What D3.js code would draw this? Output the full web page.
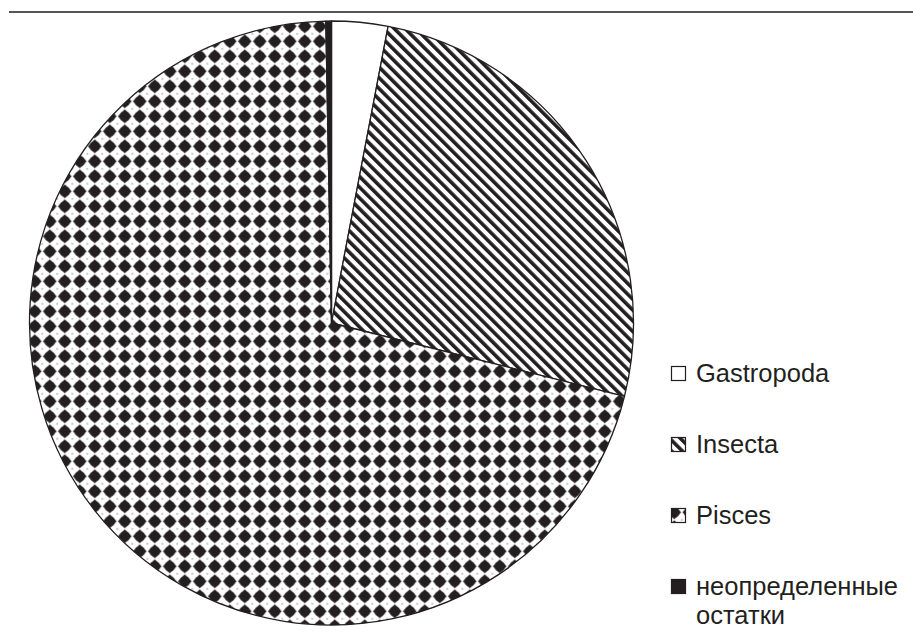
<!DOCTYPE html>
<html>
<head>
<meta charset="utf-8">
<script src="https://cdn.jsdelivr.net/npm/d3@7"></script>
<style>
  html, body { margin: 0; padding: 0; background: #fff; }
  svg { display: block; }
  text { font-family: "Liberation Sans", Arial, Helvetica, sans-serif; fill: #231f20; }
</style>
</head>
<body>
<svg id="chart" width="913" height="632"></svg>
<script>
// Diet composition shares, %, clockwise from 12 o'clock
const categories = ["Gastropoda", "Insecta", "Pisces", "неопределенные остатки"];
const shares = [3.0, 25.9, 70.8, 0.3];
const legendLines = [["Gastropoda"], ["Insecta"], ["Pisces"], ["неопределенные", "остатки"]];
const fillIds = ["fill-plain", "fill-hatch", "fill-diamond", "fill-solid"];

const width = 913, height = 632;
const cx = 331.5, cy = 323, radius = 302;

const svg = d3.select("#chart");
const defs = svg.append("defs");

// Diagonal hatch for Insecta
const hp = 7.6;
const hatch = defs.append("pattern")
  .attr("id", "fill-hatch")
  .attr("patternUnits", "userSpaceOnUse")
  .attr("width", hp).attr("height", hp)
  .attr("patternTransform", "rotate(-45)");
hatch.append("rect").attr("width", hp).attr("height", hp).attr("fill", "#fff");
hatch.append("rect").attr("x", 0).attr("y", 0).attr("width", 3.6).attr("height", hp).attr("fill", "#231f20");

// Diamond grid for Pisces
const tile = 15;
const diamond = defs.append("pattern")
  .attr("id", "fill-diamond")
  .attr("patternUnits", "userSpaceOnUse")
  .attr("x", 10.8).attr("y", 10.8)
  .attr("width", tile).attr("height", tile);
diamond.append("rect").attr("width", tile).attr("height", tile).attr("fill", "#fff");
diamond.append("path")
  .attr("d", "M7.5,0.6 L14.4,7.5 L7.5,14.4 L0.6,7.5 Z")
  .attr("fill", "#231f20");
diamond.append("circle").attr("cx", 7.5).attr("cy", 7.5).attr("r", 5.3).attr("fill", "#231f20");
[[0, 0], [tile, 0], [0, tile], [tile, tile]].forEach(([x, y]) =>
  diamond.append("circle").attr("cx", x).attr("cy", y).attr("r", 0.8).attr("fill", "#888"));

const fillFor = i => {
  if (fillIds[i] === "fill-plain") return "#fff";
  if (fillIds[i] === "fill-solid") return "#231f20";
  return `url(#${fillIds[i]})`;
};

// Rule across the top of the frame
svg.append("line")
  .attr("x1", 9).attr("x2", width)
  .attr("y1", 12).attr("y2", 12)
  .attr("stroke", "#555").attr("stroke-width", 2);

const pie = d3.pie().sort(null).value(d => d);
const arc = d3.arc().innerRadius(0).outerRadius(radius);

svg.append("g")
  .attr("transform", `translate(${cx},${cy})`)
  .selectAll("path")
  .data(pie(shares))
  .join("path")
  .attr("d", arc)
  .attr("fill", (d, i) => fillFor(i))
  .attr("stroke", "#231f20")
  .attr("stroke-width", 1.3)
  .attr("stroke-linejoin", "round");

// Legend
const legendX = 671, firstBaseline = 382, rowStep = 71, box = 15;
const legend = svg.append("g");
const rows = legend.selectAll("g")
  .data(categories)
  .join("g")
  .attr("transform", (d, i) => `translate(${legendX},${firstBaseline + i * rowStep})`);

rows.append("rect")
  .attr("x", 0.5).attr("y", -box - 0.5)
  .attr("width", box - 1).attr("height", box - 1)
  .attr("fill", (d, i) => fillFor(i))
  .attr("stroke", "#231f20")
  .attr("stroke-width", 1.2);

rows.append("text")
  .attr("x", 25)
  .attr("y", 0)
  .attr("font-size", 25.5)
  .selectAll("tspan")
  .data((d, i) => legendLines[i])
  .join("tspan")
  .attr("x", 25)
  .attr("dy", (d, j) => j === 0 ? 0 : 29)
  .text(d => d);
</script>
</body>
</html>
